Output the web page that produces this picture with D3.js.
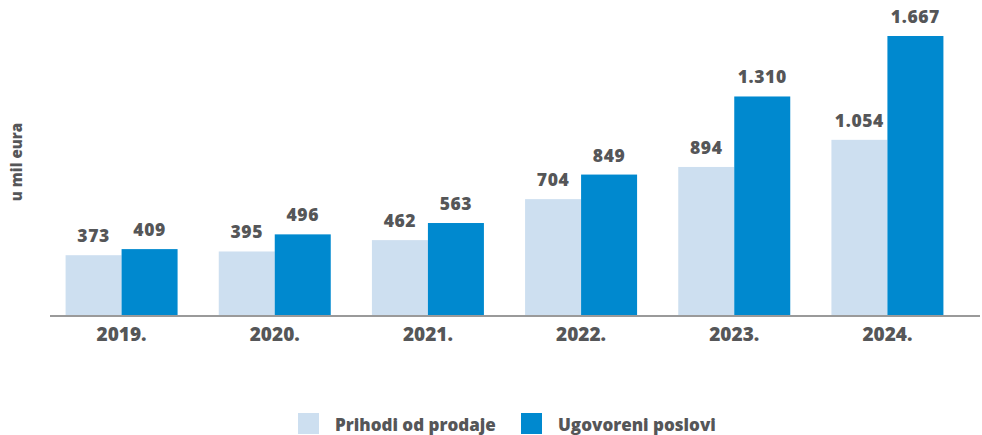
<!DOCTYPE html>
<html>
<head>
<meta charset="utf-8">
<script src="https://cdn.jsdelivr.net/npm/d3@7"></script>
<style>
  body { margin: 0; background: #fff; }
  text { font-family: "Open Sans", Roboto, sans-serif; font-weight: 800; fill: #555658; }
</style>
</head>
<body>
<div id="chart"></div>
<script>
// podaci očitani sa slike
const years = ["2019.", "2020.", "2021.", "2022.", "2023.", "2024."];
const seriesNames = ["Prihodi od prodaje", "Ugovoreni poslovi"];
const prihodi = [373, 395, 462, 704, 894, 1054];
const ugovoreni = [409, 496, 563, 849, 1310, 1667];
const colors = ["#cddff0", "#0089cf"];

function fmt(v) {
  // hrvatski zapis tisućica s točkom
  return d3.format(",")(v).replace(/,/g, ".");
}

function drawChart() {
  const width = 982, height = 435;
  const baseY = 315;

  const svg = d3.select("#chart")
    .append("svg")
    .attr("width", width)
    .attr("height", height);

  // grupe po godinama
  const x0 = d3.scaleBand()
    .domain(years)
    .range([45, 964])
    .padding(0);

  // dva stupca unutar grupe
  const x1 = d3.scaleBand()
    .domain(seriesNames)
    .range([x0.bandwidth() / 2 - 56, x0.bandwidth() / 2 + 56]);

  const y = d3.scaleLinear()
    .domain([20, 1667])
    .range([baseY, 36]);

  const rows = years.map((yr, i) => ({
    year: yr,
    values: [
      { name: seriesNames[0], value: prihodi[i] },
      { name: seriesNames[1], value: ugovoreni[i] }
    ]
  }));

  const color = d3.scaleOrdinal().domain(seriesNames).range(colors);

  const groups = svg.selectAll(".grp")
    .data(rows)
    .enter()
    .append("g")
    .attr("class", "grp")
    .attr("transform", d => `translate(${x0(d.year)},0)`);

  groups.selectAll("rect")
    .data(d => d.values)
    .enter()
    .append("rect")
    .attr("x", d => x1(d.name))
    .attr("y", d => y(d.value))
    .attr("width", x1.bandwidth())
    .attr("height", d => baseY - y(d.value))
    .attr("fill", d => color(d.name));

  // vrijednosti iznad stupaca
  groups.selectAll(".val")
    .data(d => d.values)
    .enter()
    .append("text")
    .attr("class", "val")
    .attr("x", d => x1(d.name) + x1.bandwidth() / 2)
    .attr("y", d => y(d.value) - 13)
    .attr("text-anchor", "middle")
    .style("font-size", "17.5px")
    .style("letter-spacing", "0.6px")
    .text(d => fmt(d.value));

  // x os
  svg.append("g")
    .attr("transform", `translate(0,${baseY})`)
    .call(d3.axisBottom(x0).tickSize(0).tickPadding(13))
    .call(g => g.select(".domain").remove())
    .selectAll("text")
      .style("font-size", "19px")
      .style("fill", "#555658")
      .style("font-family", "'Open Sans', sans-serif")
      .style("font-weight", "800");

  svg.append("line")
    .attr("x1", 50)
    .attr("x2", 980)
    .attr("y1", baseY + 1)
    .attr("y2", baseY + 1)
    .attr("stroke", "#9a9a9a")
    .attr("stroke-width", 2);

  // naslov y osi
  svg.append("text")
    .attr("transform", "translate(22,162) rotate(-90)")
    .attr("text-anchor", "middle")
    .style("font-size", "15px")
    .text("u mil eura");

  // legenda
  const legendX = [298, 521];
  const legend = svg.selectAll(".leg")
    .data(seriesNames)
    .enter()
    .append("g")
    .attr("class", "leg")
    .attr("transform", (d, i) => `translate(${legendX[i]},413)`);

  legend.append("rect")
    .attr("width", 21)
    .attr("height", 21)
    .attr("fill", d => color(d));

  legend.append("text")
    .attr("x", 37)
    .attr("y", 17.5)
    .style("font-size", "17px")
    .text(d => d);
}

drawChart();
</script>
</body>
</html>
